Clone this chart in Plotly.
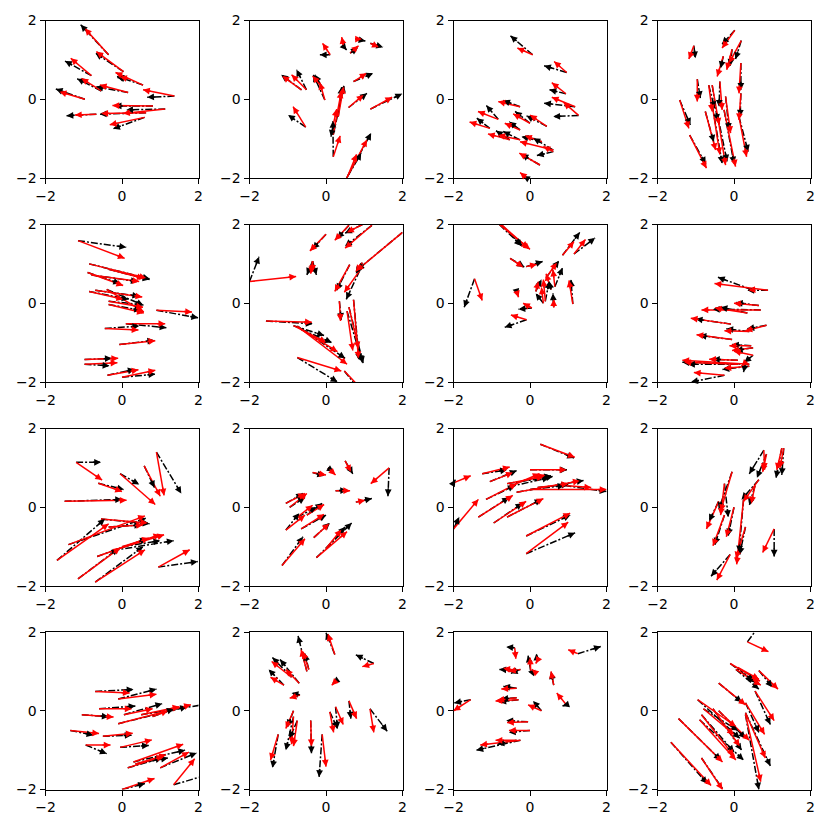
import math
import plotly.graph_objects as go

# one row per arrow: tail x, tail y, black head x, black head y, red head x, red head y
P01 = [
    (-0.35, 1.13, -1.08, 1.89, -0.97, 1.80),
    (0.04, 0.70, -0.69, 1.17, -0.67, 1.21),
    (-0.80, 0.60, -1.49, 0.97, -1.34, 1.04),
    (0.55, 0.36, -0.13, 0.58, -0.17, 0.68),
    (0.15, 0.52, -0.12, 0.55, -0.05, 0.57),
    (-0.54, 0.21, -1.17, 0.52, -1.06, 0.53),
    (0.16, 0.17, -0.67, 0.32, -0.58, 0.36),
    (-0.97, 0.00, -1.73, 0.26, -1.63, 0.19),
    (1.37, 0.08, 0.66, 0.05, 0.55, 0.24),
    (0.81, -0.17, -0.19, -0.17, -0.25, -0.16),
    (1.13, -0.25, 0.11, -0.27, 0.03, -0.36),
    (0.63, -0.34, -0.58, -0.38, -0.54, -0.36),
    (-0.67, -0.38, -1.45, -0.42, -1.23, -0.40),
    (0.59, -0.46, -0.23, -0.75, -0.32, -0.65),
]
P02 = [
    (0.54, -2.00, 1.18, -0.86, 1.07, -1.03),
    (0.57, -1.95, 0.92, -1.37, 0.80, -1.40),
    (0.19, -1.46, 0.18, -0.55, 0.37, -0.93),
    (0.19, -0.90, 0.47, 0.35, 0.40, 0.20),
    (0.20, -0.60, 0.13, -0.95, 0.28, -0.25),
    (0.32, -0.44, 0.41, 0.31, 0.46, 0.32),
    (0.59, -0.21, 1.07, 0.15, 0.98, 0.11),
    (1.16, -0.25, 1.99, 0.14, 1.73, 0.05),
    (0.72, 0.45, 1.23, 0.66, 1.06, 0.66),
    (-0.03, -0.02, -0.33, 0.62, -0.16, 0.42),
    (-0.11, 0.32, -0.29, 0.62, -0.35, 0.59),
    (-0.51, 0.24, -0.77, 0.75, -0.90, 0.62),
    (-0.64, 0.24, -1.17, 0.62, -1.14, 0.59),
    (-0.53, -0.71, -0.99, -0.40, -0.86, -0.19),
    (0.11, 1.13, -0.16, 1.13, -0.09, 1.42),
    (0.46, 1.34, 0.54, 1.25, 0.41, 1.58),
    (0.63, 1.17, 0.83, 1.30, 0.85, 1.36),
    (0.76, 1.53, 1.03, 1.48, 0.94, 1.53),
    (1.16, 1.42, 1.49, 1.32, 1.38, 1.32),
]
P03 = [
    (0.07, 1.13, -0.51, 1.61, -0.33, 1.30),
    (0.96, 0.68, 0.37, 0.85, 0.63, 0.96),
    (0.94, 0.14, 0.51, 0.24, 0.57, 0.42),
    (1.27, -0.41, 0.61, -0.44, 0.88, -0.08),
    (1.18, -0.19, 0.37, -0.10, 0.57, 0.05),
    (0.61, -1.33, 0.18, -1.43, 0.35, -1.20),
    (0.61, -1.29, 0.09, -0.99, -0.26, -1.08),
    (0.26, -1.67, -0.22, -1.40, -0.28, -1.37),
    (-0.09, -2.00, -0.18, -1.95, -0.26, -1.86),
    (0.44, -0.69, -0.09, -0.42, 0.00, -0.40),
    (0.00, -0.61, -0.39, -0.31, -0.44, -0.37),
    (-0.26, -0.19, -0.70, -0.03, -0.83, -0.06),
    (-0.83, -0.51, -1.14, -0.16, -1.36, -0.31),
    (-1.05, -0.74, -1.39, -0.48, -1.58, -0.58),
    (-0.53, -1.03, -0.89, -0.80, -1.10, -0.88),
    (-0.26, -1.03, -0.70, -0.82, -0.83, -0.91),
    (0.31, -1.08, -0.22, -0.95, -0.13, -0.93),
    (-0.26, -0.78, -0.54, -0.57, -0.66, -0.61),
]
P04 = [
    (0.02, 1.75, -0.31, 1.40, -0.31, 1.30),
    (0.19, 1.49, 0.04, 1.02, -0.13, 0.92),
    (-0.05, 1.27, -0.10, 0.85, -0.19, 0.75),
    (-0.28, 1.09, -0.35, 0.79, -0.44, 0.58),
    (-1.05, 1.36, -1.01, 1.04, -1.18, 1.02),
    (0.18, 0.92, 0.18, 0.24, 0.13, 0.15),
    (0.18, 0.15, 0.16, -0.44, 0.13, -0.53),
    (-0.96, 0.51, -0.88, 0.03, -0.96, -0.06),
    (-1.42, -0.02, -1.14, -0.65, -1.18, -0.74),
    (-0.66, 0.36, -0.51, -0.23, -0.57, -0.31),
    (-0.37, 0.45, -0.39, -0.19, -0.31, -0.27),
    (-0.22, 0.07, -0.13, -0.78, -0.09, -0.86),
    (0.13, -0.44, 0.37, -1.33, 0.33, -1.46),
    (-1.16, -0.91, -0.74, -1.64, -0.72, -1.75),
    (-0.75, -0.31, -0.53, -1.08, -0.48, -1.29),
    (-0.57, -0.14, -0.31, -1.63, -0.37, -1.40),
    (-0.44, -0.36, -0.18, -1.58, -0.22, -1.67),
    (-0.26, -0.27, 0.00, -1.63, 0.04, -1.71),
    (-0.57, 0.36, -0.43, -0.55, -0.39, -0.65),
]
P05 = [
    (-1.15, 1.59, 0.11, 1.42, 0.07, 1.14),
    (-0.86, 1.00, 0.72, 0.62, 0.63, 0.64),
    (-0.90, 0.78, -0.05, 0.50, 0.03, 0.45),
    (-0.80, 0.72, 0.41, 0.55, 0.45, 0.55),
    (-0.35, 0.86, 0.72, 0.60, 0.57, 0.63),
    (-0.86, 0.30, 0.17, 0.10, 0.03, 0.10),
    (-0.70, 0.33, 0.45, 0.18, 0.53, 0.16),
    (-0.40, 0.35, 0.56, -0.05, 0.57, -0.22),
    (-0.35, 0.05, 0.55, -0.04, 0.55, -0.10),
    (-0.35, -0.03, 0.50, -0.18, 0.57, -0.25),
    (0.90, -0.18, 1.99, -0.37, 1.83, -0.22),
    (0.10, -0.52, 1.16, -0.62, 1.13, -0.52),
    (-0.45, -0.64, 0.45, -0.58, 0.43, -0.68),
    (-0.07, -1.05, 0.84, -0.94, 0.87, -0.95),
    (-0.98, -1.43, -0.27, -1.40, -0.10, -1.40),
    (-0.98, -1.55, -0.33, -1.59, -0.12, -1.51),
    (-0.38, -1.83, 0.33, -1.68, 0.43, -1.69),
    (0.00, -1.88, 0.87, -1.80, 0.87, -1.70),
]
P06 = [
    (-2.00, 0.55, -1.75, 1.18, -0.78, 0.68),
    (-1.57, -0.45, -0.35, -0.52, -0.37, -0.48),
    (-0.85, -0.57, -0.05, -0.82, 0.00, -0.99),
    (-0.65, -0.66, 0.15, -1.00, 0.30, -1.23),
    (-0.75, -0.58, 0.50, -1.40, 0.55, -1.55),
    (-0.75, -1.38, 0.30, -2.00, 0.40, -1.72),
    (0.48, -1.72, 0.75, -2.05, 0.80, -2.05),
    (0.72, 0.09, 0.87, -1.45, 0.85, -1.40),
    (0.60, -0.10, 0.97, -1.52, 0.85, -1.15),
    (0.55, -0.20, 0.95, -1.50, 0.70, -1.20),
    (0.35, 0.05, 0.40, -0.42, 0.38, -0.45),
    (0.62, 0.98, 0.28, 0.33, 0.23, 0.30),
    (0.88, 0.83, 0.53, 0.10, 0.48, 0.28),
    (2.00, 1.80, 0.82, 0.85, 0.80, 0.83),
    (0.95, 1.03, 0.78, 0.75, 0.78, 0.80),
    (0.60, 1.98, 0.30, 1.65, 0.23, 1.60),
    (1.20, 1.98, 0.50, 1.45, 0.50, 1.40),
    (0.95, 2.00, 0.50, 1.78, 0.55, 1.80),
    (0.00, 1.75, -0.35, 1.38, -0.42, 1.33),
    (-0.35, 1.07, -0.50, 0.72, -0.40, 0.75),
    (-0.35, 1.07, -0.25, 0.72, -0.35, 0.80),
]
P07 = [
    (-0.80, 2.00, -0.23, 1.47, 0.00, 1.37),
    (-0.75, 2.00, -0.20, 1.45, -0.05, 1.40),
    (-0.52, 1.14, -0.15, 0.92, -0.18, 0.92),
    (-0.10, 0.93, 0.33, 1.06, 0.18, 0.99),
    (-1.45, 0.62, -1.72, -0.10, -1.25, 0.07),
    (0.85, 1.22, 1.30, 1.80, 1.15, 1.57),
    (1.15, 1.25, 1.70, 1.66, 1.45, 1.62),
    (0.42, 0.65, 0.76, 1.08, 0.70, 1.03),
    (0.65, 0.42, 0.85, 0.90, 0.60, 0.85),
    (1.12, -0.02, 1.07, 0.60, 1.02, 0.58),
    (0.62, -0.10, 0.60, 0.25, 0.62, 0.10),
    (0.35, 0.00, 0.15, 0.25, 0.30, 0.40),
    (0.40, 0.05, 0.50, 0.55, 0.35, 0.60),
    (0.15, 0.30, 0.30, 0.60, 0.22, 0.55),
    (0.55, 0.35, 0.50, 0.55, 0.42, 0.75),
    (-0.35, 0.30, -0.32, 0.20, -0.30, 0.15),
    (0.05, -0.12, -0.30, -0.15, -0.18, 0.00),
    (-0.09, -0.42, -0.66, -0.61, -0.50, -0.30),
]
P08 = [
    (0.48, 0.34, -0.42, 0.66, 0.38, 0.33),
    (0.89, 0.33, 0.35, 0.33, -0.51, 0.50),
    (0.65, -0.06, 0.05, 0.02, 0.00, 0.00),
    (0.70, -0.17, -0.55, -0.15, -0.85, -0.17),
    (0.35, -0.25, -0.35, -0.10, -0.50, -0.12),
    (-0.08, -0.53, -1.00, -0.40, -1.13, -0.38),
    (0.85, -0.56, 0.35, -0.65, 0.30, -0.70),
    (0.40, -0.72, -0.20, -0.65, -0.25, -0.70),
    (-0.05, -0.92, -0.90, -0.82, -0.98, -0.80),
    (0.45, -1.08, -0.05, -1.05, -0.12, -1.08),
    (0.50, -1.13, 0.05, -1.20, -0.05, -1.20),
    (0.50, -1.32, 0.27, -1.50, 0.00, -1.22),
    (0.10, -1.45, -0.55, -1.42, -0.65, -1.42),
    (0.40, -1.55, -1.35, -1.50, -1.35, -1.45),
    (0.10, -1.55, -1.20, -1.55, -1.30, -1.50),
    (0.40, -1.60, -0.30, -1.68, -0.25, -1.65),
    (0.30, -1.50, 0.25, -1.75, 0.20, -1.60),
    (-0.25, -1.83, -1.12, -2.00, -1.05, -1.76),
]
P09 = [
    (-1.20, 1.14, -0.55, 1.14, -0.52, 0.69),
    (-0.62, 0.61, 0.05, 0.45, 0.00, 0.40),
    (-0.05, 0.85, 0.45, 0.58, 0.87, 0.07),
    (0.58, 1.05, 0.85, 0.50, 1.00, 0.28),
    (0.90, 1.40, 1.55, 0.35, 1.10, 0.30),
    (-1.50, 0.15, 0.00, 0.20, 0.12, 0.18),
    (-1.40, -0.95, 0.62, -0.28, 0.60, -0.22),
    (-1.70, -1.35, -0.45, -0.30, -0.35, -0.42),
    (-0.55, -0.30, 0.72, -0.42, 0.67, -0.40),
    (-0.35, -0.50, 0.50, -0.45, 0.55, -0.45),
    (-1.15, -1.82, -0.10, -1.05, -0.05, -1.03),
    (-0.70, -1.90, 0.55, -1.00, 0.60, -1.08),
    (-0.65, -1.25, 0.65, -0.80, 0.70, -0.78),
    (-0.25, -1.10, 1.35, -0.85, 1.10, -0.70),
    (0.00, -1.00, 1.00, -0.85, 1.00, -0.70),
    (0.95, -1.52, 1.98, -1.38, 1.77, -1.08),
]
P10 = [
    (1.65, 1.00, 1.62, 0.28, 1.17, 0.60),
    (0.78, 0.13, 1.20, 0.22, 1.02, 0.18),
    (0.25, 0.42, 0.55, 0.43, 0.63, 0.42),
    (0.50, 1.18, 0.70, 0.85, 0.65, 0.90),
    (0.05, 1.00, 0.20, 0.90, 0.25, 0.82),
    (-0.35, 0.88, -0.05, 0.80, 0.00, 0.82),
    (-1.15, -1.48, -0.60, -0.75, -0.55, -0.80),
    (-1.05, -0.58, -0.70, -0.15, -0.55, -0.20),
    (-0.65, -0.55, 0.00, -0.20, -0.05, -0.18),
    (-0.25, -1.28, 0.67, -0.40, 0.55, -0.62),
    (-0.32, -0.77, 0.10, -0.40, 0.08, -0.42),
    (0.00, -1.05, 0.50, -0.50, 0.40, -0.57),
    (-1.05, 0.10, -0.60, 0.35, -0.55, 0.35),
    (-0.95, 0.00, -0.55, 0.25, -0.50, 0.35),
    (-0.75, -0.25, -0.25, 0.00, -0.35, 0.05),
    (-0.50, -0.20, -0.10, 0.10, -0.05, 0.07),
]
P11 = [
    (-2.00, 0.62, -1.95, 0.70, -1.55, 0.80),
    (0.27, 1.60, 1.15, 1.25, 1.17, 1.27),
    (-1.25, 0.85, -0.60, 0.95, -0.53, 1.02),
    (-1.05, 0.65, -0.35, 0.93, -0.45, 0.88),
    (0.00, 0.95, 0.97, 0.95, 0.95, 0.95),
    (-0.55, 0.52, 0.50, 0.75, 0.25, 0.85),
    (-0.60, 0.60, 0.60, 0.78, 0.35, 0.78),
    (-0.15, 0.68, 0.55, 0.80, 0.40, 0.82),
    (-0.35, 0.38, 1.40, 0.68, 1.30, 0.67),
    (0.20, 0.50, 1.00, 0.58, 1.00, 0.60),
    (0.00, 0.45, 0.90, 0.55, 2.00, 0.45),
    (0.90, 0.55, 2.00, 0.40, 1.60, 0.50),
    (-2.00, -0.55, -1.85, -0.25, -1.35, 0.20),
    (-1.35, -0.25, -0.55, 0.25, -0.45, 0.30),
    (-0.95, -0.40, -0.20, 0.10, -0.10, 0.15),
    (-0.60, -0.25, 0.30, 0.20, 0.35, 0.22),
    (-1.15, 0.20, -0.40, 0.55, -0.35, 0.60),
    (-0.10, -0.73, 1.05, -0.20, 1.05, -0.15),
    (-0.10, -1.18, 1.18, -0.65, 1.00, -0.38),
]
P12 = [
    (0.78, 1.45, 0.40, 0.85, 0.80, 0.95),
    (1.25, 1.50, 1.10, 0.75, 1.12, 0.95),
    (1.30, 1.50, 1.25, 0.82, 1.20, 1.00),
    (0.85, 1.35, 0.60, 0.75, 0.75, 0.90),
    (0.65, 0.70, 0.20, 0.20, 0.25, 0.15),
    (0.55, 0.55, 0.40, 0.05, 0.45, 0.10),
    (-0.05, 0.90, -0.40, -0.05, -0.35, -0.10),
    (-0.25, 0.60, -0.15, -0.25, -0.35, -0.20),
    (-0.40, 0.15, -0.65, -0.35, -0.72, -0.55),
    (-0.25, -0.20, -0.50, -0.95, -0.55, -0.98),
    (0.00, 0.00, -0.15, -0.72, -0.20, -0.75),
    (0.25, 0.20, 0.13, -1.15, 0.07, -1.45),
    (0.30, -0.50, 0.15, -1.20, 0.05, -1.30),
    (1.05, -0.55, 1.05, -1.25, 0.75, -1.15),
    (-0.10, -1.20, -0.60, -1.75, -0.45, -1.85),
]
P13 = [
    (-0.70, 0.49, 0.30, 0.54, 0.20, 0.45),
    (-0.10, 0.30, 0.90, 0.55, 0.90, 0.42),
    (-0.60, 0.05, 0.35, 0.12, 0.25, 0.05),
    (0.05, -0.10, 1.05, 0.18, 0.80, 0.05),
    (0.80, -0.15, 1.35, 0.05, 1.20, 0.00),
    (-0.10, -0.33, 1.70, 0.10, 1.80, 0.15),
    (0.50, -0.10, 2.10, 0.15, 1.50, 0.10),
    (-1.05, -0.10, -0.35, -0.15, -0.22, -0.16),
    (-1.35, -0.50, -0.75, -0.62, -0.60, -0.58),
    (-0.50, -0.65, 0.25, -0.62, 0.28, -0.57),
    (-0.95, -0.87, -0.40, -1.09, -0.30, -0.87),
    (-0.05, -0.93, 0.70, -0.88, 0.78, -0.74),
    (0.15, -1.45, 1.05, -1.20, 1.08, -1.15),
    (0.30, -1.30, 1.65, -1.00, 1.60, -0.85),
    (0.35, -1.35, 1.20, -1.20, 1.15, -1.12),
    (1.00, -1.45, 1.95, -1.07, 1.75, -1.05),
    (1.35, -1.88, 2.05, -1.68, 1.90, -1.22),
    (0.00, -2.00, 0.60, -1.85, 0.85, -1.72),
]
P14 = [
    (-0.50, 1.00, -0.73, 1.90, -0.65, 1.55),
    (-0.45, 1.05, -0.55, 1.45, -0.60, 1.50),
    (0.23, 1.43, 0.00, 1.98, 0.05, 1.95),
    (1.25, 1.20, 0.78, 1.42, 0.95, 1.12),
    (-0.70, 0.70, -1.20, 1.30, -1.05, 1.05),
    (-0.90, 0.85, -1.40, 1.35, -1.42, 1.25),
    (-1.10, 0.65, -1.50, 1.05, -1.45, 0.85),
    (-0.68, 0.40, -0.90, 0.45, -0.95, 0.32),
    (0.25, 0.75, 0.18, 0.70, 0.15, 0.65),
    (-0.85, 0.00, -1.00, -0.40, -1.05, -0.45),
    (-0.85, -0.15, -1.05, -1.00, -0.90, -0.85),
    (-0.75, -0.25, -0.95, -0.70, -0.85, -0.90),
    (-1.25, -0.60, -1.40, -1.45, -1.45, -1.25),
    (-0.40, -0.25, -0.38, -1.08, -0.38, -0.90),
    (-0.10, -0.60, -0.18, -1.68, 0.00, -1.42),
    (0.10, -0.03, 0.30, -0.45, 0.20, -0.55),
    (0.25, 0.10, 0.30, -0.45, 0.45, -0.35),
    (0.60, 0.25, 0.65, -0.20, 0.80, -0.20),
    (1.15, 0.05, 1.60, -0.52, 1.25, -0.55),
]
P15 = [
    (1.25, 1.45, 1.85, 1.63, 1.00, 1.55),
    (-0.40, 1.60, -0.62, 1.62, -0.37, 1.32),
    (0.18, 1.25, 0.17, 1.45, 0.15, 1.20),
    (0.02, 1.00, -0.05, 1.40, 0.00, 1.35),
    (0.17, 0.95, -0.05, 1.00, 0.05, 1.05),
    (-0.40, 1.03, -0.80, 1.05, -0.70, 1.08),
    (-0.25, 1.05, -0.50, 0.95, -0.55, 1.00),
    (-0.35, 0.57, -0.70, 0.62, -0.75, 0.55),
    (-0.30, 0.28, -0.80, 0.22, -0.90, 0.25),
    (-0.35, 0.33, -0.75, 0.30, -0.85, 0.27),
    (0.30, 0.00, 0.08, 0.25, -0.05, 0.15),
    (0.95, 0.15, 0.85, 0.12, 0.70, 0.45),
    (0.62, 0.65, 0.55, 0.98, 0.55, 1.00),
    (-0.05, -0.28, -0.62, -0.25, -0.60, -0.30),
    (0.00, -0.50, -0.55, -0.55, -0.55, -0.50),
    (-0.25, -0.75, -1.40, -1.00, -1.30, -0.87),
    (-0.35, -0.75, -0.85, -0.85, -0.90, -0.75),
    (-1.55, 0.28, -1.98, 0.20, -2.00, 0.00),
]
P16 = [
    (0.35, 1.75, 0.58, 2.05, 0.90, 1.50),
    (-0.10, 1.20, 0.55, 0.72, 0.68, 0.75),
    (0.05, 1.05, 0.65, 0.55, 0.70, 0.65),
    (0.65, 1.02, 1.00, 0.60, 1.15, 0.55),
    (0.10, 1.10, 0.50, 0.75, 0.65, 0.80),
    (-0.40, 0.70, 0.20, 0.22, 0.30, 0.15),
    (0.55, 0.50, 0.95, -0.35, 1.05, -0.25),
    (0.30, 0.20, 0.65, -0.55, 0.80, -0.60),
    (-0.95, 0.28, 0.15, -0.70, 0.05, -0.40),
    (-0.80, 0.05, 0.10, -0.50, 0.00, -0.60),
    (-0.40, 0.00, 0.30, -0.70, 0.40, -0.75),
    (-0.55, 0.05, 0.20, -1.00, 0.15, -0.90),
    (-0.85, -0.10, 0.00, -1.05, 0.00, -1.15),
    (-1.45, -0.20, -0.35, -1.25, -0.30, -1.30),
    (-0.90, -0.23, 0.25, -1.25, 0.05, -1.25),
    (0.30, -0.05, 0.95, -1.40, 0.82, -1.20),
    (0.30, -0.10, 0.65, -2.00, 0.70, -1.80),
    (-1.65, -0.80, -0.70, -1.85, -0.60, -1.90),
    (-0.85, -1.20, -0.25, -2.05, -0.30, -2.00),
]

PANELS = [P01, P02, P03, P04, P05, P06, P07, P08,
          P09, P10, P11, P12, P13, P14, P15, P16]

TICKS = [-2, 0, 2]
TICK_TEXT = ["\u22122", "0", "2"]

W = 830
LEFT = [45.5, 249.5, 453.5, 657.5]   # px, left edge of each column
TOP = [20.5, 224.5, 428.5, 632.0]    # px, top edge of each row
PW, PH = 153.0, 157.5
SX, SY = PW / 4, PH / 4              # px per data unit
HEAD_BACK = 8                        # px, length of the head's own stub

fig = go.Figure()

for i, arrows in enumerate(PANELS):
    r, c = divmod(i, 4)
    n = "" if i == 0 else str(i + 1)
    xa, ya = "x" + n, "y" + n

    # black = dash-dot, red = solid; both start from the same tail
    for color, dash, hx, hy in (("black", "7px,2px,2px,2px", 2, 3), ("red", "solid", 4, 5)):
        xs, ys = [], []
        for a in arrows:
            xs += [a[0], a[hx], None]
            ys += [a[1], a[hy], None]
        fig.add_trace(go.Scatter(
            x=xs, y=ys, mode="lines",
            line=dict(color=color, width=1.5, dash=dash),
            xaxis=xa, yaxis=ya, hoverinfo="skip", showlegend=False
        ))
        for a in arrows:
            dx = (a[hx] - a[0]) * SX
            dy = (a[hy] - a[1]) * SY
            d = math.hypot(dx, dy) or 1.0
            back = min(HEAD_BACK, d)
            fig.add_annotation(
                x=a[hx], y=a[hy], xref=xa, yref=ya,
                ax=-dx / d * back, ay=dy / d * back,
                showarrow=True, arrowhead=2, arrowsize=0.9,
                arrowwidth=1.5, arrowcolor=color, text="",
                font=dict(size=1), borderpad=0, borderwidth=0, standoff=0
            )

    axis_style = dict(
        range=[-2, 2], tickvals=TICKS, ticktext=TICK_TEXT,
        showgrid=False, zeroline=False, showline=True, mirror=True,
        linecolor="black", linewidth=1, ticks="outside", ticklen=5,
        tickwidth=1, tickcolor="black",
        tickfont=dict(family="DejaVu Sans", size=14, color="black"),
    )
    x0 = LEFT[c] / W
    x1 = (LEFT[c] + PW) / W
    y1 = 1 - TOP[r] / W
    y0 = 1 - (TOP[r] + PH) / W
    fig.update_layout({
        "xaxis" + n: dict(axis_style, domain=[x0, x1], anchor=ya, automargin=False),
        "yaxis" + n: dict(axis_style, domain=[y0, y1], anchor=xa, automargin=False),
    })

fig.update_layout(
    width=830, height=830,
    margin=dict(l=0, r=0, t=0, b=0, pad=0, autoexpand=False),
    plot_bgcolor="white", paper_bgcolor="white",
    showlegend=False,
)

fig.write_html("out.html", config={"displayModeBar": False},
               post_script="document.body.style.margin='0';")
